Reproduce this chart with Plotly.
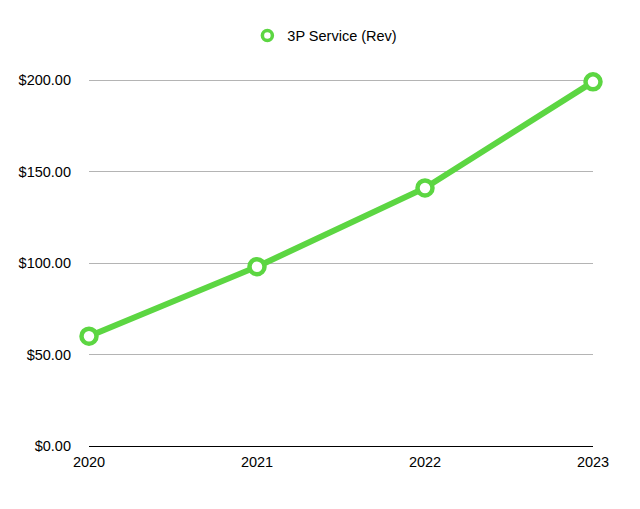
import plotly.graph_objects as go

years = [2020, 2021, 2022, 2023]
revenue = [60, 98, 141, 199]
series_name = "3P Service (Rev)"
y_ticks = [0, 50, 100, 150, 200]
y_tick_labels = ["$0.00", "$50.00", "$100.00", "$150.00", "$200.00"]

green = "#5CD642"

fig = go.Figure()
fig.add_trace(go.Scatter(
    x=years, y=revenue, name=series_name, mode="lines+markers",
    line=dict(color=green, width=6),
    marker=dict(size=15, color="white", line=dict(color=green, width=4.5)),
    cliponaxis=False, showlegend=False,
))
# legend entry (marker only, as in the reference legend)
fig.add_trace(go.Scatter(
    x=[None], y=[None], name=series_name, mode="markers",
    marker=dict(size=10, color="white", line=dict(color=green, width=3.5)),
    showlegend=True,
))

fig.update_layout(
    width=640, height=509,
    margin=dict(l=89, r=47, t=78, b=63),
    paper_bgcolor="white", plot_bgcolor="white",
    font=dict(family="Liberation Sans, Arial, Helvetica, sans-serif", size=14.5, color="black"),
    showlegend=True,
    legend=dict(orientation="h", x=0.468, xanchor="center", y=0.93, yanchor="middle",
                yref="container", font=dict(size=14.5), itemwidth=30),
    xaxis=dict(range=[2020, 2023], tickmode="array", tickvals=years,
               ticktext=[str(y) for y in years], showgrid=False, zeroline=False,
               showline=False, ticks="", ticklabelstandoff=5),
    yaxis=dict(range=[0, 201.1], tickmode="array", tickvals=y_ticks, ticktext=y_tick_labels,
               showgrid=True, gridcolor="#b4b4b4", gridwidth=1, zeroline=True,
               zerolinecolor="black", zerolinewidth=1, showline=False, ticks="",
               ticklabelstandoff=17),
)

fig.write_html("out.html")
